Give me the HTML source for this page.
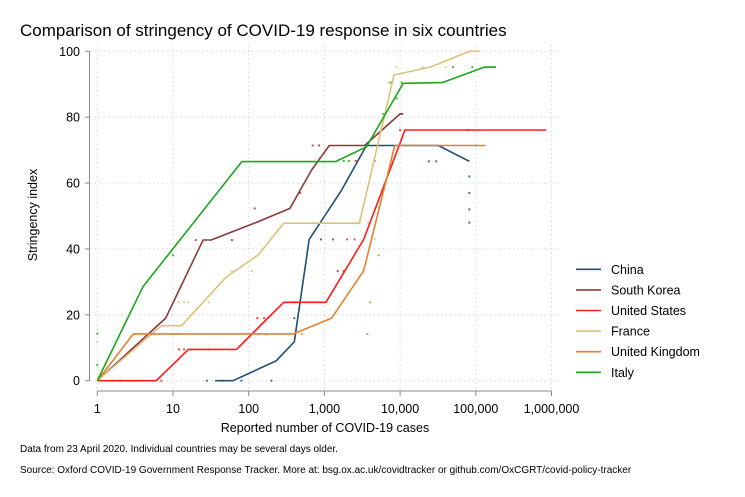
<!DOCTYPE html>
<html><head><meta charset="utf-8"><style>
body{margin:0;background:#fff;}
svg{display:block;font-family:"Liberation Sans",sans-serif;}
</style></head><body>
<svg id="chart" width="745" height="497" viewBox="0 0 745 497">
<text x="20" y="36" font-size="17" fill="#000">Comparison of stringency of COVID-19 response in six countries</text>
<g id="grid"></g>
<g id="axes"></g>
<g id="dots"></g>
<g id="lines"></g>
<text x="0" y="0" transform="translate(37,215) rotate(-90)" text-anchor="middle" font-size="12.5">Stringency index</text>
<text x="325" y="432" text-anchor="middle" font-size="12.5">Reported number of COVID-19 cases</text>
<text x="20" y="452" font-size="10">Data from 23 April 2020. Individual countries may be several days older.</text>
<text x="20" y="473" font-size="10">Source: Oxford COVID-19 Government Response Tracker. More at: bsg.ox.ac.uk/covidtracker or github.com/OxCGRT/covid-policy-tracker</text>
<g id="legend"></g>
</svg>
<script>
const countries = ["China","South Korea","United States","France","United Kingdom","Italy"];
const colors = ["#1f4e79","#8b3a3a","#ff1a1a","#dcc277","#e1812b","#1aa81a"];
const chinaLine = [[36,0],[62,0],[230,6],[400,11.8],[630,42.9],[1640,57.4],[3600,71.4],[32000,71.4],[82000,66.6]];
const koreaLine = [[1,0],[8,19],[25,42.7],[32,42.7],[134,48.3],[350,52.3],[680,64],[1160,71.4],[3400,71.4],[10000,81],[11000,81]];
const usLine = [[1,0],[6,0],[16,9.5],[69,9.5],[290,23.8],[1050,23.8],[3300,42.9],[11600,76.1],[850000,76.1]];
const franceLine = [[1,0],[7,16.7],[13,16.7],[50,31.4],[134,38.2],[290,47.8],[2900,47.8],[8300,92.8],[25000,95.2],[83000,100],[114000,100]];
const ukLine = [[1,0],[3,14.2],[390,14.2],[1250,19],[3300,33.4],[8500,71.4],[135000,71.4]];
const italyLine = [[1,0],[4,28.5],[81,66.5],[1400,66.5],[3600,71],[11000,90.3],[36000,90.5],[130000,95.2],[185000,95.2]];
const chinaDots = [[28,0],[45,0],[80,0],[200,0],[400,19],[900,42.9],[1300,42.9],[24000,66.6],[30000,66.6],[82000,62],[82000,57],[82000,52],[82000,48]];
const koreaDots = [[20,42.7],[60,42.7],[120,52.3],[480,57],[700,71.4],[850,71.4],[10500,81]];
const usDots = [[2,0],[3,0],[7,0],[12,9.5],[14,9.5],[30,9.5],[130,19],[160,19],[400,23.8],[2000,42.9],[2500,42.9],[1500,33.3],[1800,33.3],[2600,66.7],[4600,66.7],[10000,76.1],[80000,76.1]];
const franceDots = [[1,11.9],[12,23.8],[14,23.8],[16,23.8],[30,23.8],[60,33.3],[110,33.3],[2900,47.8],[3800,47.8],[4600,42.9],[5200,52.4],[7000,90.5],[9000,95.2],[20000,95.2],[40000,95.2]];
const ukDots = [[10,14.2],[11,14.2],[12,14.2],[170,14.2],[500,14.2],[4000,23.8],[3700,14.2],[5200,38.1],[100000,71.4]];
const italyDots = [[1,4.8],[1,14.3],[10,38.1],[1800,66.7],[2100,66.7],[6000,81],[7500,90.5],[9000,85.7],[10500,90.5],[50000,95.2],[90000,95.2]];
const yTicks = [0,20,40,60,80,100];
const xTicks = [1,10,100,1000,10000,100000,1000000];
const xTickLabels = ["1","10","100","1,000","10,000","100,000","1,000,000"];

const allLines=[chinaLine,koreaLine,usLine,franceLine,ukLine,italyLine];
const allDots=[chinaDots,koreaDots,usDots,franceDots,ukDots,italyDots];
const NS="http://www.w3.org/2000/svg";
const X0=97.3, PXDEC=75.7, Y0=380.7, PXU=3.294;
function xs(v){return X0+Math.log10(v)*PXDEC;}
function ys(v){return Y0-v*PXU;}
function mk(tag,attrs,parent){const e=document.createElementNS(NS,tag);for(const k in attrs)e.setAttribute(k,attrs[k]);parent.appendChild(e);return e;}
const grid=document.getElementById('grid'),axes=document.getElementById('axes');
yTicks.forEach(t=>{
  const g=mk('line',{x1:90,x2:560,y1:ys(t),y2:ys(t),stroke:"#d4d4d4","stroke-width":1,"stroke-dasharray":"1.5,3"},grid);
  
  
  const tk=mk('line',{x1:85,x2:89.5,y1:ys(t),y2:ys(t),stroke:"#888"},axes);
  
  
  const lb=mk('text',{x:80,y:ys(t)+4.5,"text-anchor":"end","font-size":"12.5"},axes);
  lb.textContent=t;
  
  
});
xTicks.forEach((t,i)=>{
  const g=mk('line',{x1:xs(t),x2:xs(t),y1:45,y2:390,stroke:"#d4d4d4","stroke-width":1,"stroke-dasharray":"1.5,3"},grid);
  
  
  const tk=mk('line',{x1:xs(t),x2:xs(t),y1:391,y2:396,stroke:"#888"},axes);
  
  
  const lb=mk('text',{x:xs(t),y:413,"text-anchor":"middle","font-size":"12.5"},axes);
  lb.textContent=xTickLabels[i];
  
  
});
const ya=mk('line',{x1:89.5,x2:89.5,y1:ys(100),y2:ys(0),stroke:"#888"},axes);


const xa=mk('line',{x1:xs(1),x2:xs(1000000),y1:391,y2:391,stroke:"#888"},axes);


const dots=document.getElementById('dots'),lines=document.getElementById('lines'),legend=document.getElementById('legend');
allDots.forEach((arr,i)=>{arr.forEach(p=>{
  const d=mk('rect',{x:xs(p[0])-1,y:ys(p[1])-1,width:2,height:2,fill:colors[i],opacity:0.8},dots);
  
  
});});
allLines.forEach((arr,i)=>{
  const pl=mk('polyline',{points:arr.map(p=>xs(p[0]).toFixed(1)+","+ys(p[1]).toFixed(1)).join(" "),fill:"none",stroke:colors[i],"stroke-width":1.6,"stroke-linejoin":"round"},lines);
  
  
  const y=269.3+i*20.6;
  const ll=mk('line',{x1:576,x2:601,y1:y,y2:y,stroke:colors[i],"stroke-width":1.6},legend);
  
  
  const lt=mk('text',{x:611,y:y+4.5,"font-size":"12.5"},legend);
  lt.textContent=countries[i];
  
  
});
</script>
</body></html>
